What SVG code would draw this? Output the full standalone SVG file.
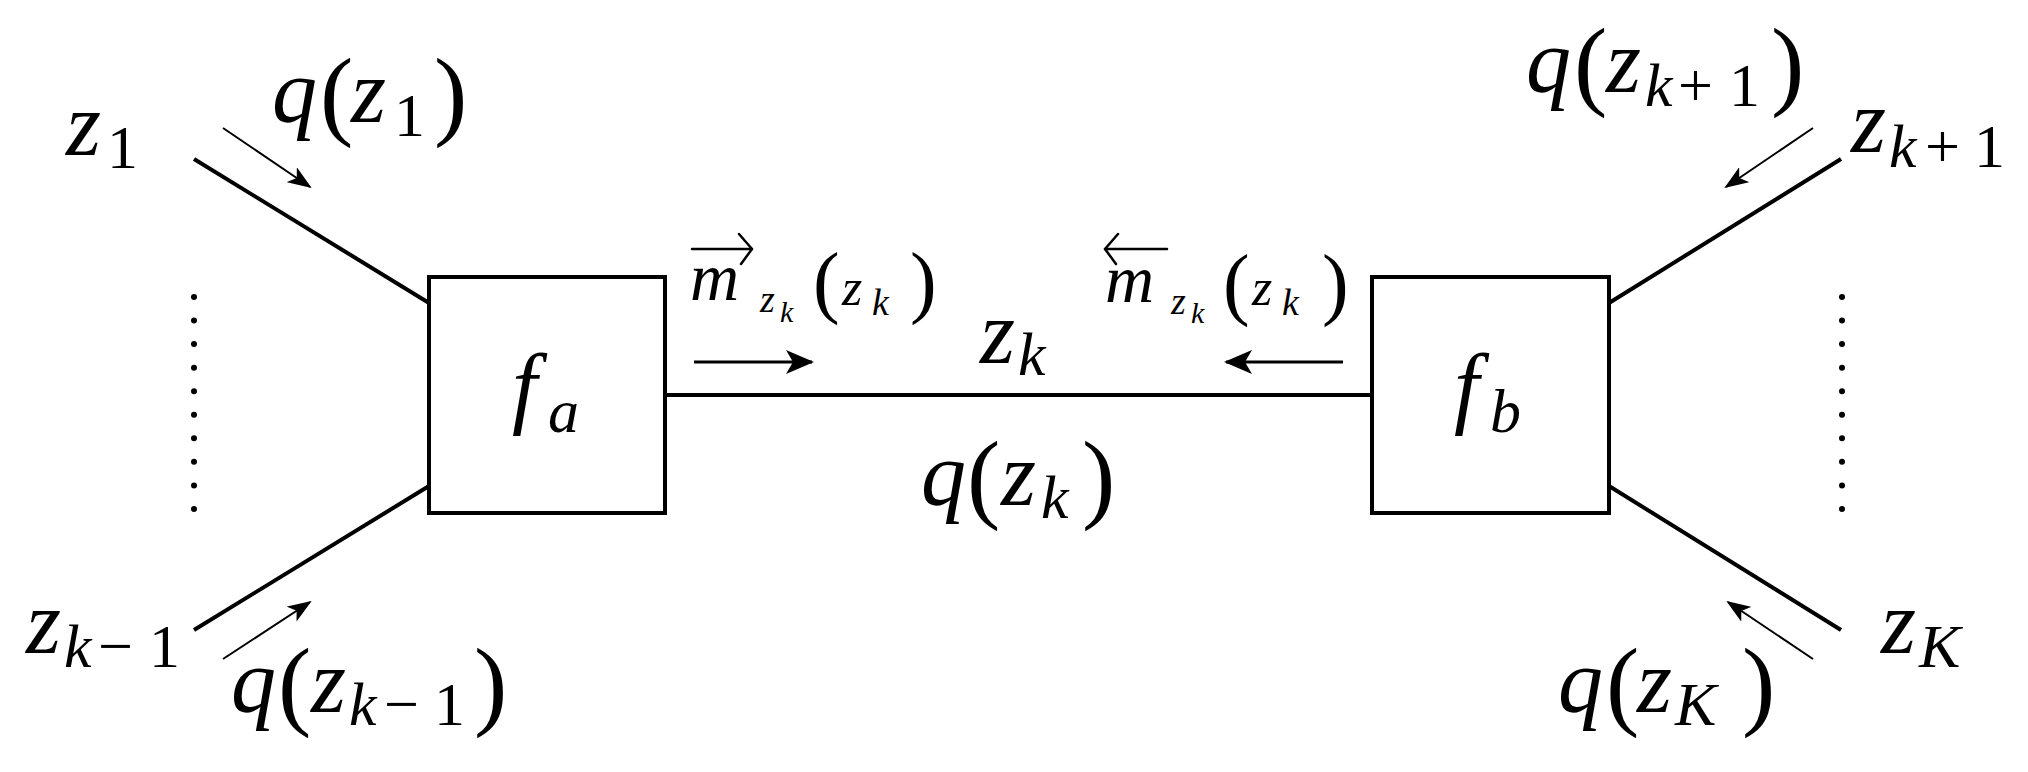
<svg xmlns="http://www.w3.org/2000/svg" width="2028" height="772" viewBox="0 0 2028 772">
<defs>
<marker id="ah" markerUnits="userSpaceOnUse" viewBox="0 0 24 18" refX="22" refY="9" markerWidth="24" markerHeight="18" orient="auto">
<path d="M0,0 L24,9 L0,18 L6,9 Z" fill="#000"/>
</marker>
<marker id="ah2" markerUnits="userSpaceOnUse" viewBox="0 0 28 24" refX="26" refY="12" markerWidth="28" markerHeight="24" orient="auto">
<path d="M0,0 L28,12 L0,24 L7,12 Z" fill="#000"/>
</marker>
</defs>
<rect width="2028" height="772" fill="#fff"/>
<g id="connectors" fill="none" stroke="#000">
<g stroke-width="4">
<line x1="194" y1="159" x2="429" y2="303"/>
<line x1="194" y1="630" x2="429" y2="486"/>
<line x1="1609" y1="303" x2="1841" y2="159"/>
<line x1="1609" y1="486" x2="1841" y2="630"/>
<line x1="665" y1="395" x2="1372" y2="395"/>
</g>
<g stroke-width="6" stroke-linecap="round" stroke-dasharray="0 23.55">
<line x1="194" y1="297" x2="194" y2="509"/>
<line x1="1842" y1="297" x2="1842" y2="509"/>
</g>
<g stroke-width="2">
<line x1="223" y1="128" x2="310" y2="187" marker-end="url(#ah)"/>
<line x1="223" y1="659" x2="310" y2="602" marker-end="url(#ah)"/>
<line x1="1813" y1="128" x2="1726" y2="187" marker-end="url(#ah)"/>
<line x1="1813" y1="659" x2="1728" y2="602" marker-end="url(#ah)"/>
</g>
<g stroke-width="3">
<line x1="694" y1="362" x2="812" y2="362" marker-end="url(#ah2)"/>
<line x1="1343" y1="362" x2="1226" y2="362" marker-end="url(#ah2)"/>
</g>
</g>
<g id="node-fa">
<rect x="429" y="277" width="236" height="236" fill="#fff" stroke="#000" stroke-width="4"/>
<text font-family="Liberation Serif" font-style="italic" font-size="90" x="512" y="417">f<tspan font-size="62" x="548" y="432">a</tspan></text>
</g>
<g id="node-fb">
<rect x="1372" y="277" width="237" height="236" fill="#fff" stroke="#000" stroke-width="4"/>
<text font-family="Liberation Serif" font-style="italic" font-size="90" x="1454" y="417">f<tspan font-size="62" x="1490" y="432">b</tspan></text>
</g>
<g id="label-z1">
<text font-family="Liberation Serif" font-style="italic" font-size="90" x="66" y="155">z<tspan font-style="normal" font-size="62" x="107" y="168">1</tspan></text>
</g>
<g id="label-qz1">
<text font-family="Liberation Serif" font-style="italic" font-size="90" x="272" y="122">q<tspan font-style="normal" font-size="100" x="320" y="127">(</tspan><tspan x="351" y="122">z</tspan><tspan font-style="normal" font-size="62" x="394" y="136">1</tspan><tspan font-style="normal" font-size="100" x="434" y="127">)</tspan></text>
</g>
<g id="label-zkm1">
<text font-family="Liberation Serif" font-style="italic" font-size="90" x="26" y="653">z<tspan font-size="62" x="64" y="667">k</tspan><tspan font-style="normal" font-size="62" x="98" y="667">−</tspan><tspan font-style="normal" font-size="62" x="149" y="667">1</tspan></text>
</g>
<g id="label-qzkm1">
<text font-family="Liberation Serif" font-style="italic" font-size="90" x="231" y="712">q<tspan font-style="normal" font-size="100" x="278" y="717">(</tspan><tspan x="311" y="712">z</tspan><tspan font-size="62" x="349" y="725">k</tspan><tspan font-style="normal" font-size="62" x="384" y="725">−</tspan><tspan font-style="normal" font-size="62" x="434" y="725">1</tspan><tspan font-style="normal" font-size="100" x="474" y="717">)</tspan></text>
</g>
<g id="label-zkp1">
<text font-family="Liberation Serif" font-style="italic" font-size="90" x="1851" y="152">z<tspan font-size="62" x="1889" y="167">k</tspan><tspan font-style="normal" font-size="62" x="1925" y="167">+</tspan><tspan font-style="normal" font-size="62" x="1974" y="167">1</tspan></text>
</g>
<g id="label-qzkp1">
<text font-family="Liberation Serif" font-style="italic" font-size="90" x="1526" y="92">q<tspan font-style="normal" font-size="100" x="1574" y="97">(</tspan><tspan x="1606" y="92">z</tspan><tspan font-size="62" x="1645" y="106">k</tspan><tspan font-style="normal" font-size="62" x="1678" y="106">+</tspan><tspan font-style="normal" font-size="62" x="1729" y="106">1</tspan><tspan font-style="normal" font-size="100" x="1771" y="97">)</tspan></text>
</g>
<g id="label-zK">
<text font-family="Liberation Serif" font-style="italic" font-size="90" x="1881" y="653">z<tspan font-size="62" x="1919" y="667">K</tspan></text>
</g>
<g id="label-qzK">
<text font-family="Liberation Serif" font-style="italic" font-size="90" x="1558" y="712">q<tspan font-style="normal" font-size="100" x="1606" y="717">(</tspan><tspan x="1637" y="712">z</tspan><tspan font-size="62" x="1675" y="725">K</tspan><tspan font-style="normal" font-size="100" x="1742" y="717">)</tspan></text>
</g>
<g id="label-zk">
<text font-family="Liberation Serif" font-style="italic" font-size="90" x="980" y="363">z<tspan font-size="62" x="1018" y="375">k</tspan></text>
</g>
<g id="label-qzk">
<text font-family="Liberation Serif" font-style="italic" font-size="90" x="921" y="505">q<tspan font-style="normal" font-size="100" x="967" y="510">(</tspan><tspan x="1001" y="505">z</tspan><tspan font-size="62" x="1041" y="518">k</tspan><tspan font-style="normal" font-size="100" x="1082" y="510">)</tspan></text>
</g>
<g id="label-m-forward">
<g fill="none" stroke="#000" stroke-width="2.5" stroke-linejoin="round" stroke-linecap="round">
<line x1="692" y1="249" x2="752" y2="249"/>
<polyline points="739,234 752,249 741,264"/>
</g>
<text font-family="Liberation Serif" font-style="italic" font-size="68" x="690" y="300">m<tspan font-size="38" x="760" y="312">z</tspan><tspan font-size="30" x="780" y="322">k</tspan><tspan font-style="normal" font-size="80" x="813" y="308">(</tspan><tspan font-size="52" x="842" y="305">z</tspan><tspan font-size="38" x="872" y="315">k</tspan><tspan font-style="normal" font-size="80" x="910" y="308">)</tspan></text>
</g>
<g id="label-m-backward">
<g fill="none" stroke="#000" stroke-width="2.5" stroke-linejoin="round" stroke-linecap="round">
<line x1="1105" y1="249" x2="1167" y2="249"/>
<polyline points="1118,234 1105,249 1116,264"/>
</g>
<text font-family="Liberation Serif" font-style="italic" font-size="68" x="1105" y="302">m<tspan font-size="38" x="1171" y="314">z</tspan><tspan font-size="30" x="1191" y="323">k</tspan><tspan font-style="normal" font-size="80" x="1223" y="310">(</tspan><tspan font-size="52" x="1252" y="305">z</tspan><tspan font-size="38" x="1282" y="315">k</tspan><tspan font-style="normal" font-size="80" x="1322" y="310">)</tspan></text>
</g>
</svg>
